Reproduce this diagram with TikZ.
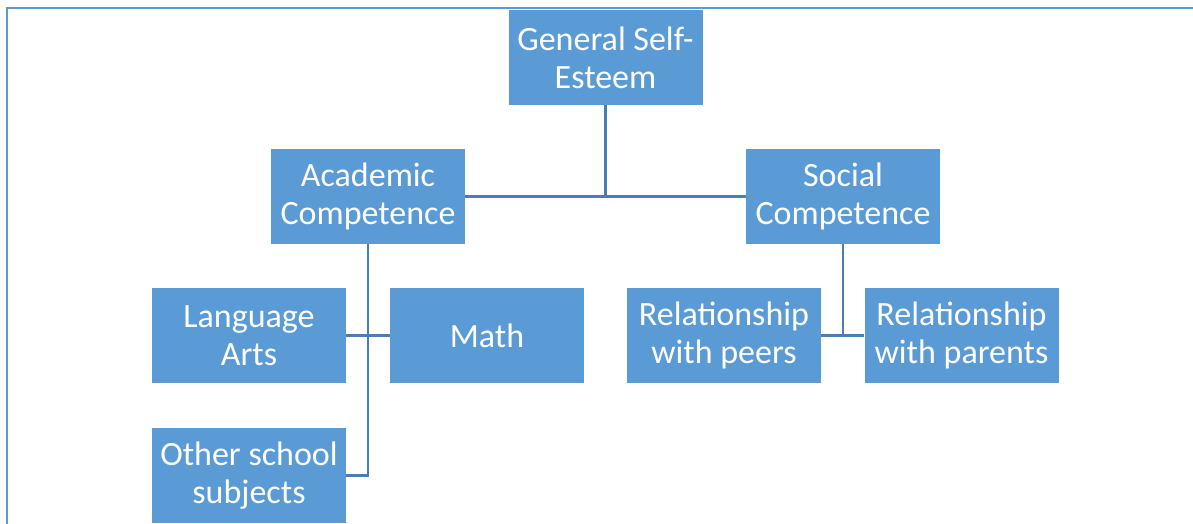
\documentclass[tikz,border=0pt]{standalone}
\usepackage{fontspec}
\setmainfont{Carlito}
\usepackage{tikz}
\definecolor{boxblue}{HTML}{5B9BD5}
\definecolor{lineblue}{HTML}{4A7EB3}

\begin{document}
\begin{tikzpicture}[x=1pt, y=-1pt,
	main/.style = {fill=boxblue, text=white, minimum width=194pt, minimum height=95pt, inner sep=0pt, align=center, font=\fontsize{34}{38}\selectfont},
	link/.style = {draw=lineblue, line width=2.2pt}]
	\useasboundingbox (0,0) rectangle (1193,523);
	\draw[boxblue, line width=2pt] (7,8) rectangle (1260,600);
	\node[main] (gse) at (605.5,57.5) {General Self-\\Esteem};
	\node[main] (acad) at (368,196.5) {Academic\\Competence};
	\node[main] (soc) at (843,196.5) {Social\\Competence};
	\node[main] (lang) at (249,335.5) {Language\\Arts};
	\node[main] (math) at (487,335.5) {Math};
	\node[main] (other) at (249,475.5) {Other school\\subjects};
	\node[main] (peers) at (724,335.5) {Relationship\\with peers};
	\node[main] (parents) at (961.5,335.5) {Relationship\\with parents};
	\draw[link] (acad) -- (soc);
	\draw[link] (gse) -- (gse |- acad);
	\draw[link] (lang) -- (math);
	\draw[link] (acad.south) |- (other.east);
	\draw[link] (peers) -- (parents);
	\draw[link] (soc.south) -- (soc.south |- peers);
\end{tikzpicture}
\end{document}
